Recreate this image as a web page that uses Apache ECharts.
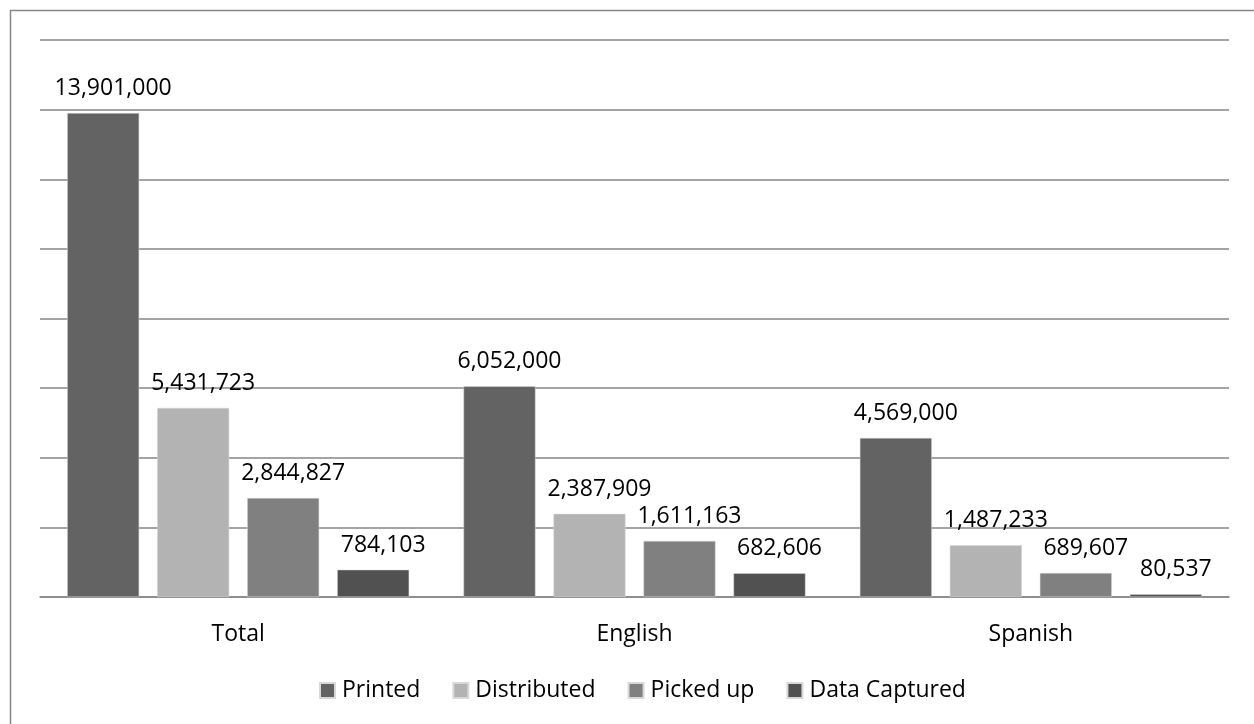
<!DOCTYPE html>
<html>
<head>
<meta charset="utf-8">
<script src="https://cdn.jsdelivr.net/npm/echarts@6/dist/echarts.min.js"></script>
<style>
  html, body { margin: 0; padding: 0; background: #fff; }
  #main { width: 1254px; height: 724px; }
</style>
</head>
<body>
<div id="main"></div>
<script>
const categories = ['Total', 'English', 'Spanish'];
const printed = [13901000, 6052000, 4569000];
const distributed = [5431723, 2387909, 1487233];
const pickedUp = [2844827, 1611163, 689607];
const dataCaptured = [784103, 682606, 80537];

const font = '"Open Sans", "Noto Sans", sans-serif';
const fmt = (p) => p.value.toLocaleString('en-US');

const mkSeries = (name, data, color) => ({
  name,
  type: 'bar',
  data,
  barWidth: 72,
  barGap: '25%',
  itemStyle: { color, borderColor: '#d8d8d8', borderWidth: 0.5 },
  label: {
    show: true,
    position: 'top',
    distance: 13,
    offset: [10, 0],
    color: '#000',
    fontFamily: font,
    fontSize: 23,
    formatter: fmt
  }
});

const chart = echarts.init(document.getElementById('main'));
chart.setOption({
  backgroundColor: '#fff',
  animation: false,
  // chart frame: only top and left edges fall inside the picture
  graphic: [{
    type: 'rect',
    shape: { x: 10.5, y: 10.5, width: 1400, height: 900 },
    style: { fill: 'none', stroke: '#868686', lineWidth: 1.5 }
  }],
  grid: { left: 40, right: 25, top: 40, bottom: 127 },
  legend: {
    top: 674,
    left: 314,
    itemWidth: 15,
    itemHeight: 15,
    itemGap: 32,
    icon: 'rect',
    textStyle: { fontFamily: font, fontSize: 23, color: '#000', padding: [0, 0, 0, 2] },
    data: ['Printed', 'Distributed', 'Picked up', 'Data Captured']
  },
  xAxis: {
    type: 'category',
    data: categories,
    axisLine: { lineStyle: { color: '#868686', width: 1.5 } },
    axisTick: { show: false },
    axisLabel: { color: '#000', fontFamily: font, fontSize: 23, margin: 26 }
  },
  yAxis: {
    type: 'value',
    min: 0,
    max: 16000000,
    interval: 2000000,
    axisLabel: { show: false },
    axisLine: { show: false },
    axisTick: { show: false },
    splitLine: { lineStyle: { color: '#868686', width: 1.5 } }
  },
  series: [
    mkSeries('Printed', printed, '#636363'),
    mkSeries('Distributed', distributed, '#b3b3b3'),
    mkSeries('Picked up', pickedUp, '#808080'),
    mkSeries('Data Captured', dataCaptured, '#515151')
  ]
});
</script>
</body>
</html>
